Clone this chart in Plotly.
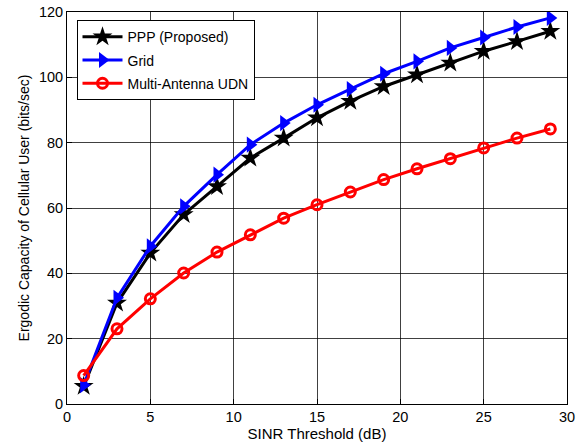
import plotly.graph_objects as go

x_vals = [1, 3, 5, 7, 9, 11, 13, 15, 17, 19, 21, 23, 25, 27, 29]
ppp = [5.4, 30.9, 46.2, 58.0, 66.6, 75.3, 81.4, 87.6, 92.7, 97.2, 100.8, 104.4, 108.0, 111.0, 114.1]
grid = [5.8, 32.5, 48.3, 60.5, 70.2, 79.4, 86.0, 91.6, 96.4, 101.1, 104.9, 109.0, 112.2, 115.4, 118.2]
udn = [8.7, 23.0, 32.2, 40.1, 46.5, 51.8, 56.9, 61.0, 64.9, 68.7, 72.0, 75.1, 78.4, 81.4, 84.2]
x_ticks = [0, 5, 10, 15, 20, 25, 30]
y_ticks = [0, 20, 40, 60, 80, 100, 120]

fig = go.Figure()
fig.add_trace(go.Scatter(x=x_vals, y=ppp, mode="lines+markers", name="PPP (Proposed)",
                         legendgroup="a",
                         line=dict(color="black", width=3),
                         marker=dict(symbol="star", size=15, color="black")))
fig.add_trace(go.Scatter(x=x_vals, y=grid, mode="lines+markers", name="Grid",
                         legendgroup="b",
                         line=dict(color="blue", width=3),
                         marker=dict(symbol="triangle-right", size=14, color="blue")))
fig.add_trace(go.Scatter(x=x_vals, y=udn, mode="lines+markers", name="Multi-Antenna UDN",
                         legendgroup="c",
                         line=dict(color="red", width=3),
                         marker=dict(symbol="circle-open", size=10, color="red",
                                     line=dict(width=3, color="red"))))

axis_common = dict(showline=True, linecolor="black", linewidth=1, mirror=True,
                   showgrid=True, gridcolor="rgba(0,0,0,0.75)", gridwidth=1,
                   ticks="inside", ticklen=5, tickcolor="black", zeroline=False,
                   automargin=False,
                   tickfont=dict(size=14.5, color="black"))

fig.update_layout(
    width=587, height=447,
    margin=dict(l=67, r=20, t=12, b=43),
    paper_bgcolor="white", plot_bgcolor="white",
    font=dict(family="Liberation Sans, Arial, sans-serif", size=14, color="black"),
    xaxis=dict(range=[0, 30], tickvals=x_ticks,
               title=dict(text="SINR Threshold (dB)", standoff=3, font=dict(size=15)),
               **axis_common),
    yaxis=dict(range=[0, 120], tickvals=y_ticks,
               title=dict(text="Ergodic Capacity of Cellular User (bits/sec)", standoff=5, font=dict(size=14)),
               **axis_common),
    legend=dict(x=0.019, y=0.979, xanchor="left", yanchor="top",
                bgcolor="white", bordercolor="black", borderwidth=1,
                font=dict(size=14), itemwidth=40, tracegroupgap=2),
    showlegend=True,
)

fig.write_html("out.html", config={"displayModeBar": False},
               post_script="document.body.style.margin='0';document.body.style.padding='0';")
